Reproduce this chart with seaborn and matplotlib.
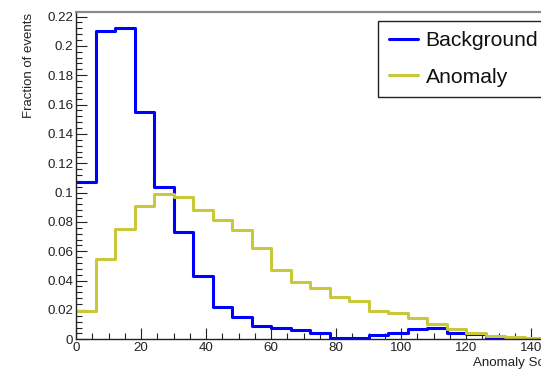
import numpy as np
import pandas as pd
import matplotlib
matplotlib.use("Agg")
import matplotlib.pyplot as plt
from matplotlib.lines import Line2D
from matplotlib.ticker import MultipleLocator, FuncFormatter
import seaborn as sns

# Histogram binning: 25 bins of width 6 on [0, 150]
bin_edges = list(range(0, 151, 6))

background = [0.107, 0.210, 0.212, 0.155, 0.104, 0.073, 0.043, 0.022, 0.015,
              0.009, 0.008, 0.006, 0.004, 0.001, 0.001, 0.0027, 0.004, 0.0068,
              0.0077, 0.004, 0.0035, 0.0007, 0.0005, 0.0003, 0.0]
anomaly = [0.019, 0.055, 0.075, 0.091, 0.099, 0.097, 0.088, 0.081, 0.0745,
           0.062, 0.047, 0.039, 0.035, 0.0286, 0.026, 0.0195, 0.0177, 0.0145,
           0.0104, 0.0072, 0.0045, 0.0025, 0.0018, 0.0007, 0.0003]

series_names = ["Background", "Anomaly"]
series_colors = ["#0000ff", "#c8c83a"]

centers = [(a + b) / 2 for a, b in zip(bin_edges[:-1], bin_edges[1:])]
df = pd.DataFrame({
    "score": centers * 2,
    "fraction": background + anomaly,
    "sample": [series_names[0]] * len(background) + [series_names[1]] * len(anomaly),
})

sns.set_style("ticks")
plt.rcParams["font.family"] = ["Liberation Sans", "DejaVu Sans"]

W, H = 541, 369
fig = plt.figure(figsize=(W / 100, H / 100), dpi=100)
x0, xr, yb, yt = 76, 563.5, 339.3, 12
ax = fig.add_axes([x0 / W, (H - yb) / H, (xr - x0) / W, (yb - yt) / H])

for name, col in zip(series_names, series_colors):
    sns.histplot(data=df[df["sample"] == name], x="score", weights="fraction",
                 bins=bin_edges, element="step", fill=False, color=col,
                 linewidth=2.2, ax=ax)

ax.set_xlim(0, 150)
ax.set_ylim(0, 0.2231)
ax.set_xlabel("")
ax.set_ylabel("")

ax.xaxis.set_major_locator(MultipleLocator(20))
ax.xaxis.set_minor_locator(MultipleLocator(5))
ax.yaxis.set_major_locator(MultipleLocator(0.02))
ax.yaxis.set_minor_locator(MultipleLocator(0.004))
ax.yaxis.set_major_formatter(FuncFormatter(lambda v, p: f"{v:.2f}".rstrip("0").rstrip(".") if v else "0"))
ax.xaxis.set_major_formatter(FuncFormatter(lambda v, p: f"{v:g}"))

ax.tick_params(which="both", direction="in", top=False, right=False,
               colors="#222222", labelcolor="#222222", labelsize=9.6, width=0.8)
ax.tick_params(which="major", length=8)
ax.tick_params(which="minor", length=4)
ax.tick_params(axis="y", pad=2)
ax.tick_params(axis="x", pad=2)

for s in ["left", "bottom"]:
    ax.spines[s].set_color("#222222")
    ax.spines[s].set_linewidth(1.0)
ax.spines["top"].set_visible(True)
ax.spines["top"].set_color("#8a8a8a")
ax.spines["top"].set_linewidth(1.6)
ax.spines["right"].set_visible(True)
ax.spines["right"].set_color("#8a8a8a")

ax.text(1.0, (yb - 366) / (yb - yt), "Anomaly Score", transform=ax.transAxes,
        ha="right", va="baseline", fontsize=9.6, color="#222222", clip_on=False)
fig.text(29 / W, 1 - 13 / H, "Fraction of events", rotation=90, ha="center",
         va="top", fontsize=9.5, color="#222222")

handles = [Line2D([], [], color=c, lw=2.2) for c in series_colors]
leg = fig.legend(handles, series_names, loc="upper left",
                 bbox_to_anchor=(378 / W, 1 - 20.7 / H), borderaxespad=0,
                 fontsize=15.2, frameon=True, fancybox=False, framealpha=1,
                 edgecolor="#222222", handlelength=1.4, handletextpad=0.35,
                 borderpad=0.5, labelspacing=0.82)
leg.get_frame().set_linewidth(1.0)
for t in leg.get_texts():
    t.set_color("#111111")

fig.savefig("out.png", dpi=100)
